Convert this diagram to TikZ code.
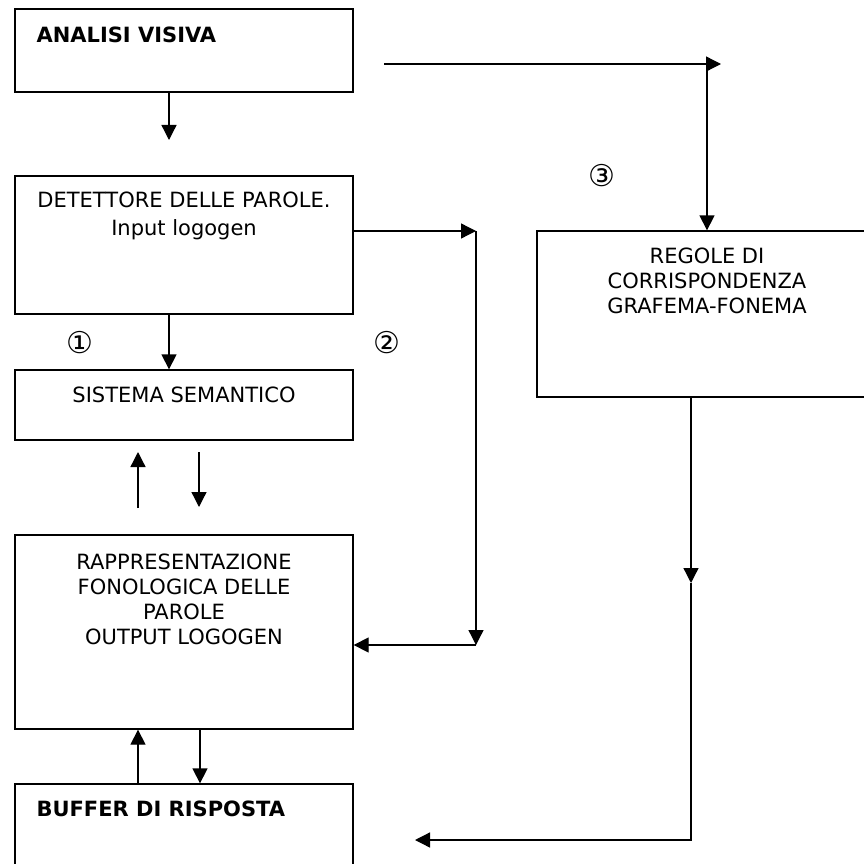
\documentclass[tikz,border=0pt]{standalone}
\usepackage{fontspec}
\setmainfont{DejaVu Sans}
\usetikzlibrary{positioning,arrows.meta}
\begin{document}
\begin{tikzpicture}
[x=1pt,y=-1pt,
 boxdecorate/.style={shape=rectangle,draw,line width=1.3pt,inner sep=0pt},%
 textdecorate/.style={inner sep=0pt,align=center,font=\fontsize{21}{25}\selectfont},%
 numdecorate/.style={inner sep=0pt,font=\fontsize{30}{30}\selectfont},%
 arrowdecorate/.style={-{Triangle[length=15pt,width=15pt]},line width=1.3pt}]
\useasboundingbox (0,0) rectangle (864,864);
%% boxes
\foreach \nodename/\x/\y/\w/\h in {analisi/184/50.5/338/83, detettore/184/245/338/138,
  sistema/184/405/338/70, rappresentazione/184/632/338/194, buffer/184/842/338/116,
  regole/707/314/340/166} {
  \node (\nodename) at (\x,\y) [boxdecorate,minimum width=\w pt,minimum height=\h pt] {};
}
%% texts
\node (analisitxt) [textdecorate,font=\fontsize{21}{25}\selectfont\bfseries,below right=18pt and 22pt of analisi.north west] {ANALISI VISIVA};
\node (detettoretxt) [textdecorate,below=16pt of detettore.north] {DETETTORE DELLE PAROLE.\\[3pt]Input logogen};
\node (sistematxt) [textdecorate,below=17pt of sistema.north] {SISTEMA SEMANTICO};
\node (rappresentazionetxt) [textdecorate,below=19pt of rappresentazione.north] {RAPPRESENTAZIONE\\FONOLOGICA DELLE\\PAROLE\\OUTPUT LOGOGEN};
\node (buffertxt) [textdecorate,font=\fontsize{21}{25}\selectfont\bfseries,below right=17pt and 22pt of buffer.north west] {BUFFER DI RISPOSTA};
\node (regoletxt) [textdecorate,below=17pt of regole.north] {REGOLE DI\\CORRISPONDENZA\\GRAFEMA-FONEMA};
%% route numbers
\foreach \nodename/\x/\y/\num in {uno/80/343/①, due/387/343/②, tre/602/176/③} {
  \node (\nodename) at (\x,\y) [numdecorate] {\num};
}
%% free ends
\foreach \nodename/\x/\y in {analisiend/169/140, visivastart/384/64, visivaend/721/64,
  lessicaleA/476/231, lessicaleB/476/645, semup/138/508, semupend/138/452,
  semdown/199/452, semdownend/199/507, regolemid/691/583, regolecorner/691/840,
  regoleend/415/840} {
  \coordinate (\nodename) at (\x,\y);
}
%% connectors
\draw[arrowdecorate] ([xshift=-15pt]analisi.south) -- (analisiend);
\draw[arrowdecorate] (visivastart) -- (visivaend);
\draw[arrowdecorate] (regole.north |- visivaend) -- (regole.north);
\draw[arrowdecorate] ([xshift=-15pt]detettore.south) -- ([xshift=-15pt]sistema.north);
\draw[arrowdecorate] ([yshift=14pt]detettore.east) -- (lessicaleA);
\draw[arrowdecorate] (lessicaleA) -- (lessicaleB);
\draw[arrowdecorate] (lessicaleB) -- (rappresentazione.east |- lessicaleB);
\draw[arrowdecorate] (semup) -- (semupend);
\draw[arrowdecorate] (semdown) -- (semdownend);
\draw[arrowdecorate] ([xshift=-46pt]buffer.north) -- ([xshift=-46pt]rappresentazione.south);
\draw[arrowdecorate] ([xshift=16pt]rappresentazione.south) -- ([xshift=16pt]buffer.north);
\draw[arrowdecorate] ([xshift=-16pt]regole.south) -- (regolemid);
\draw[arrowdecorate] (regolemid) -- (regolecorner) -- (regoleend);
\end{tikzpicture}
\end{document}
